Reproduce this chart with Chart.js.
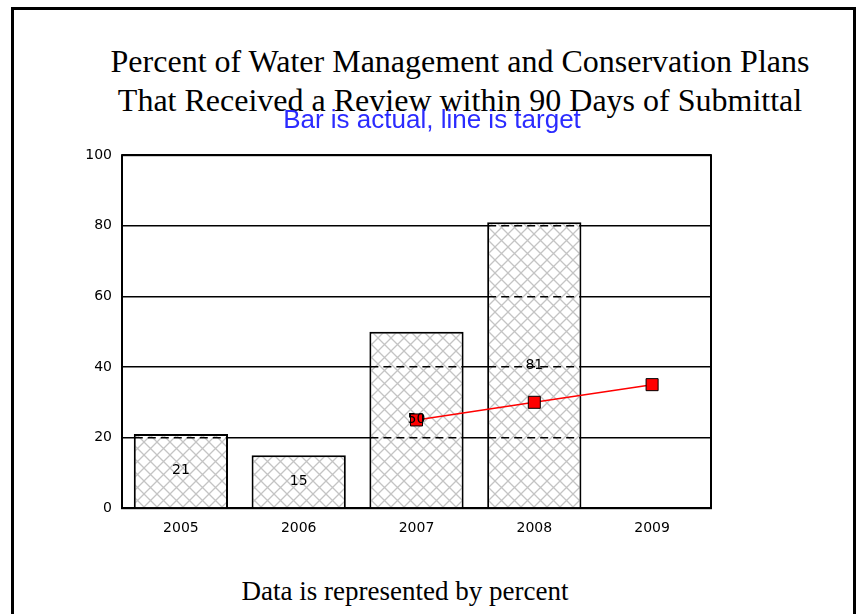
<!DOCTYPE html>
<html>
<head>
<meta charset="utf-8">
<script src="https://cdn.jsdelivr.net/npm/chart.js@4"></script>
<style>
  body { margin: 0; background: #fff; width: 860px; height: 614px; overflow: hidden; position: relative; }
  #frame { position: absolute; left: 11px; top: 7px; width: 845px; height: 700px; box-sizing: border-box;
           border: 3px solid #000; border-bottom: none; }
  #title { position: absolute; left: 0; top: 42px; width: 920px; text-align: center;
           font-family: 'Liberation Serif', serif; font-size: 32px; line-height: 39px; color: #000; }
  #caption { position: absolute; left: 0; top: 577px; width: 810px; text-align: center;
             font-family: 'Liberation Serif', serif; font-size: 27px; line-height: 28px; color: #000; }
  #chart { position: absolute; left: 14px; top: 104px; }
</style>
</head>
<body>
<div id="frame"></div>
<div id="title">Percent of Water Management and Conservation Plans<br>That Received a Review within 90 Days of Submittal</div>
<canvas id="chart" width="836" height="455"></canvas>
<div id="caption">Data is represented by percent</div>
<script>
// data
const years = ['2005', '2006', '2007', '2008', '2009'];
const actual = [21, 15, 50, 81, null];
const target = [null, null, 25, 30, 35];
const subtitle = 'Bar is actual, line is target';

const tickFont = { family: '"DejaVu Sans", sans-serif', size: 14 };

// crosshatch fill for the bars
function hatch() {
  const c = document.createElement('canvas');
  c.width = 13; c.height = 13;
  const g = c.getContext('2d');
  g.fillStyle = '#fff';
  g.fillRect(0, 0, 13, 13);
  g.strokeStyle = '#c4c4c4';
  g.lineWidth = 1.3;
  g.beginPath();
  g.moveTo(0, 0); g.lineTo(13, 13);
  g.moveTo(13, 0); g.lineTo(0, 13);
  g.stroke();
  return g.createPattern(c, 'repeat');
}

// dashed grid inside the bars, frame and value labels
const overlay = {
  id: 'overlay',
  afterDatasetsDraw(chart) {
    const ctx = chart.ctx;
    const area = chart.chartArea;
    const y = chart.scales.y;
    const meta = chart.getDatasetMeta(1);
    ctx.save();
    ctx.strokeStyle = '#000';
    ctx.lineWidth = 1.5;
    ctx.setLineDash([8, 5]);
    meta.data.forEach((bar, i) => {
      if (actual[i] == null) return;
      const half = bar.width / 2;
      y.ticks.forEach(t => {
        if (t.value <= 0 || t.value >= actual[i]) return;
        const py = Math.round(y.getPixelForValue(t.value) - 0.75) + 0.75;
        ctx.beginPath();
        ctx.moveTo(bar.x - half + 1, py);
        ctx.lineTo(bar.x + half - 1, py);
        ctx.stroke();
      });
    });
    ctx.setLineDash([]);
    ctx.lineWidth = 2;
    ctx.strokeRect(area.left, area.top, area.right - area.left, area.bottom - area.top);

    ctx.fillStyle = '#000';
    ctx.font = '14px "DejaVu Sans", sans-serif';
    ctx.textAlign = 'center';
    ctx.textBaseline = 'middle';
    meta.data.forEach((bar, i) => {
      if (actual[i] == null) return;
      ctx.fillText(String(actual[i]), bar.x, (bar.y + bar.base) / 2);
    });
    ctx.restore();
  }
};

new Chart(document.getElementById('chart'), {
  type: 'bar',
  data: {
    labels: years,
    datasets: [
      {
        type: 'line',
        label: 'Target',
        data: target,
        order: 0,
        borderColor: '#ff0000',
        borderWidth: 1.5,
        pointStyle: 'rect',
        pointRadius: 8.5,
        pointBackgroundColor: '#ff0000',
        pointBorderColor: '#000',
        pointBorderWidth: 1,
        tension: 0
      },
      {
        type: 'bar',
        label: 'Actual',
        data: actual,
        order: 1,
        backgroundColor: hatch(),
        borderColor: '#000',
        borderWidth: 2,
        barPercentage: 0.8,
        categoryPercentage: 1
      }
    ]
  },
  options: {
    responsive: false,
    animation: false,
    layout: { padding: { bottom: 10 } },
    plugins: {
      legend: { display: false },
      tooltip: { enabled: false },
      title: {
        display: true,
        text: subtitle,
        color: '#2b2bff',
        font: { family: '"Liberation Sans", Arial, sans-serif', size: 26, weight: 'normal' },
        padding: { top: 1, bottom: 19 }
      }
    },
    scales: {
      x: {
        grid: { display: false, drawTicks: false },
        border: { display: false },
        ticks: { color: '#000', font: tickFont, padding: 12 }
      },
      y: {
        min: 0,
        max: 100,
        afterFit: s => { s.width = 108; },
        ticks: { stepSize: 20, color: '#000', padding: 10, font: tickFont },
        grid: { color: '#000', lineWidth: 1.5, tickLength: 0 },
        border: { display: false }
      },
      // empty right-hand gutter so the plot stops where the reference does
      gutter: {
        position: 'right',
        afterFit: s => { s.width = 139; },
        grid: { display: false },
        border: { display: false },
        ticks: { display: false }
      }
    }
  },
  plugins: [overlay]
});
</script>
</body>
</html>
